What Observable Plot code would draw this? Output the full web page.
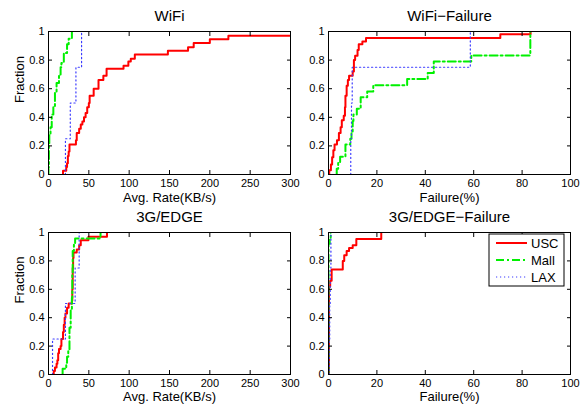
<!DOCTYPE html>
<html><head><meta charset="utf-8">
<script src="https://cdn.jsdelivr.net/npm/d3@7"></script>
<script src="https://cdn.jsdelivr.net/npm/@observablehq/plot@0.6"></script>
<style>
body{margin:0;background:#fff;}
#chart{position:relative;width:584px;height:406px;font-family:"Liberation Sans",Arial,sans-serif;}
#chart .panel{position:absolute;}
#legend{position:absolute;left:0;top:0;pointer-events:none;}
</style></head><body><div id="chart"></div>
<script>
// ---- data (step points of the empirical CDFs: [x, fraction after x]) ----
const sites = ["USC", "Mall", "LAX"];
const panelTitles = ["WiFi", "WiFi\u2212Failure", "3G/EDGE", "3G/EDGE\u2212Failure"];
const xLabels = ["Avg. Rate(KB/s)", "Failure(%)", "Avg. Rate(KB/s)", "Failure(%)"];
const rateTicks = [0, 50, 100, 150, 200, 250, 300];
const failTicks = [0, 20, 40, 60, 80, 100];
const fracTicks = [0, 0.2, 0.4, 0.6, 0.8, 1];

const wifiUSC = [[18,0],[18,0.026],[22,0.052],[23,0.078],[24,0.13],[25,0.16],[26,0.21],[34,0.24],[35,0.29],[38,0.32],[40,0.35],[42,0.37],[44,0.40],[46,0.43],[48,0.47],[50,0.50],[51,0.55],[56,0.60],[62,0.66],[68,0.69],[72,0.74],[93,0.76],[99,0.79],[102,0.81],[107,0.84],[148,0.865],[173,0.89],[180,0.92],[200,0.945],[223,0.97],[300,0.97]];
const wifiMall = [[0,0],[0,0.05],[0.5,0.2],[1,0.28],[2.5,0.33],[4,0.42],[6,0.47],[8,0.57],[10,0.64],[13,0.70],[15,0.75],[16,0.78],[19,0.85],[23,0.91],[25,0.95],[29,1.0]];
const wifiLAX = [[21,0],[21,0.25],[27,0.5],[34,0.75],[41,1.0]];

const wfailUSC = [[0.3,0],[0.3,0.03],[1,0.07],[1.5,0.12],[2,0.17],[2.5,0.21],[3.5,0.24],[4.3,0.29],[5,0.33],[5.5,0.38],[6.3,0.41],[6.8,0.47],[7,0.55],[7.5,0.62],[8,0.66],[8.5,0.69],[10,0.72],[10.5,0.8],[11,0.83],[12,0.87],[12.5,0.91],[14,0.93],[15.5,0.955],[71,0.98],[83.5,1.0]];
const wfailMall = [[3.4,0],[3.4,0.04],[4,0.08],[4.8,0.125],[7,0.21],[9,0.25],[9.5,0.29],[10,0.375],[10.3,0.42],[11.7,0.46],[13.3,0.54],[16,0.58],[18.5,0.625],[32.5,0.667],[41,0.71],[43.5,0.79],[59,0.833],[83.4,1.0]];
const wfailLAX = [[9.2,0],[9.2,0.25],[9.5,0.5],[9.8,0.75],[58.6,1.0]];

const g3USC = [[6.5,0],[6.5,0.025],[8,0.05],[10,0.075],[11,0.1],[12,0.15],[13,0.18],[15,0.2],[16,0.25],[18,0.3],[19,0.35],[20,0.4],[21,0.43],[23,0.47],[25,0.5],[29,0.52],[29.5,0.6],[30,0.75],[30.5,0.82],[31,0.86],[35,0.88],[38,0.91],[40,0.945],[49.5,0.97],[72.5,1.0]];
const g3Mall = [[17.5,0],[17.5,0.04],[22,0.083],[23,0.125],[24.5,0.167],[26,0.33],[27.5,0.45],[29,0.54],[29.5,0.7],[30,0.87],[31.5,0.92],[33,0.958],[64.5,1.0]];
const g3LAX = [[5,0],[5,0.25],[21,0.5],[33,0.75],[38,1.0]];

const gfailUSC = [[0.2,0],[0.2,0.62],[0.7,0.66],[1.3,0.74],[5.9,0.8],[6.5,0.84],[7.5,0.87],[8.5,0.89],[10,0.91],[11.5,0.955],[21.8,1.0]];
const gfailMall = [[0,0],[0,0.92],[0.5,0.96],[0.9,1.0]];
const gfailLAX = [[0.3,0],[0.3,0.25],[0.5,0.5],[0.7,0.75],[1,1.0]];

// ---- styles ----
const styles = {
  USC:  {stroke: "#ff0000", strokeWidth: 2, strokeDasharray: null},
  Mall: {stroke: "#00f000", strokeWidth: 2, strokeDasharray: "8,3,2,3"},
  LAX:  {stroke: "#3c3cff", strokeWidth: 1.2, strokeDasharray: "1.2,2.8"}
};

const panelData = [
  [wifiUSC, wifiMall, wifiLAX],
  [wfailUSC, wfailMall, wfailLAX],
  [g3USC, g3Mall, g3LAX],
  [gfailUSC, gfailMall, gfailLAX]
];
const xMax = [300, 100, 300, 100];
const xTickSets = [rateTicks, failTicks, rateTicks, failTicks];

const layout = [
  {left: 0,   top: 0,   ml: 48, mr: 2,  mt: 31, mb: 29, ylab: true,  ldy: 27},
  {left: 292, top: 0,   ml: 36, mr: 14, mt: 31, mb: 29, ylab: false, ldy: 27},
  {left: 0,   top: 203, ml: 48, mr: 2,  mt: 29, mb: 32, ylab: true,  ldy: 26},
  {left: 292, top: 203, ml: 36, mr: 14, mt: 29, mb: 32, ylab: false, ldy: 26}
];

const chart = document.getElementById("chart");
const font = "Liberation Sans, Arial, sans-serif";

panelData.forEach((series, i) => {
  const L = layout[i];
  const marks = [];
  series.forEach((pts, j) => {
    const s = styles[sites[j]];
    marks.push(Plot.line(pts, {
      x: d => d[0], y: d => d[1], curve: "step-after", clip: true,
      stroke: s.stroke, strokeWidth: s.strokeWidth, strokeDasharray: s.strokeDasharray
    }));
  });
  marks.push(Plot.frame({stroke: "#000", strokeWidth: 1}));
  marks.push(Plot.axisX({ticks: xTickSets[i], tickSize: -4, tickPadding: 9, tickFormat: d => String(d), fontSize: 11, label: null}));
  marks.push(Plot.axisX({anchor: "top", ticks: xTickSets[i], tickSize: -4, tickFormat: () => "", label: null}));
  marks.push(Plot.axisY({ticks: fracTicks, tickSize: -4, tickPadding: 8, tickFormat: d => String(d), fontSize: 11, label: null}));
  marks.push(Plot.axisY({anchor: "right", ticks: fracTicks, tickSize: -4, tickFormat: () => "", label: null}));
  marks.push(Plot.text([panelTitles[i]], {text: d => d, frameAnchor: "top", dy: -11, lineAnchor: "bottom", fontSize: 15}));
  marks.push(Plot.text([xLabels[i]], {text: d => d, frameAnchor: "bottom", dy: L.ldy, lineAnchor: "bottom", fontSize: 13}));
  if (L.ylab) marks.push(Plot.text(["Fraction"], {text: d => d, frameAnchor: "left", rotate: -90, dx: -25, lineAnchor: "bottom", fontSize: 13}));
  const p = Plot.plot({
    width: 292, height: 203,
    marginLeft: L.ml, marginRight: L.mr, marginTop: L.mt, marginBottom: L.mb,
    x: {domain: [0, xMax[i]]},
    y: {domain: [0, 1]},
    style: {fontFamily: font, color: "#000", background: "transparent", overflow: "visible"},
    marks
  });
  p.classList.add("panel");
  p.style.left = L.left + "px";
  p.style.top = L.top + "px";
  chart.appendChild(p);
});

// ---- legend (in 3G/EDGE-Failure panel) ----
const leg = d3.select(chart).append("svg").attr("id", "legend").attr("width", 584).attr("height", 406);
const lg = leg.append("g").attr("transform", "translate(489,234)");
lg.append("rect").attr("width", 75).attr("height", 52).attr("fill", "#fff").attr("stroke", "#000").attr("stroke-width", 1);
sites.forEach((s, k) => {
  const y = 9 + k * 17;
  const st = styles[s];
  lg.append("line").attr("x1", 7).attr("x2", 38).attr("y1", y).attr("y2", y)
    .attr("stroke", st.stroke).attr("stroke-width", st.strokeWidth)
    .attr("stroke-dasharray", st.strokeDasharray);
  lg.append("text").attr("x", 42).attr("y", y + 4.5).attr("font-size", 13)
    .attr("font-family", font).text(s);
});
</script></body></html>
